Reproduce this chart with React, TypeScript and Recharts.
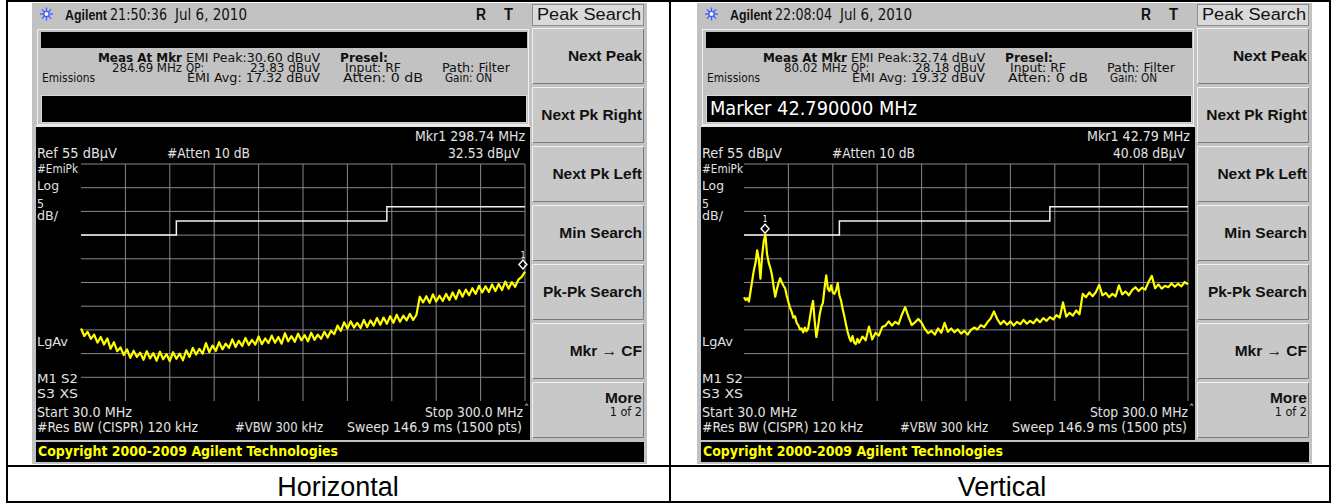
import React from 'react';
import { LineChart, Line, XAxis, YAxis, CartesianGrid, ReferenceDot } from 'recharts';

// grid: 10 divisions of 27 MHz, 10 divisions of 5 dB (ref 55 dBuV)
const FREQ_TICKS = [30, 57, 84, 111, 138, 165, 192, 219, 246, 273, 300];
const LEVEL_TICKS = [5, 10, 15, 20, 25, 30, 35, 40, 45, 50, 55];

// limit line (white), level holds from each frequency to the next
const LIMIT_FREQS = [30, 88, 216, 300];
const LIMIT_LEVELS = [40, 43, 46, 46];

// Horizontal: 30..300 MHz, one reading every 2 MHz (dBuV)
const HORIZ_LEVELS = [
  20.3, 18.7, 19.6, 18.1, 19.0, 17.3, 18.5, 16.9, 18.2, 16.0,
  17.4, 15.5, 16.3, 14.7, 15.9, 14.1, 15.6, 14.3, 15.2, 13.7,
  15.5, 14.0, 15.1, 13.5, 15.4, 13.8, 14.9, 13.4, 15.3, 13.9,
  15.0, 13.6, 15.7, 14.3, 16.2, 14.8, 16.0, 15.0, 17.2, 15.3,
  16.7, 15.6, 17.4, 15.9, 17.1, 16.2, 18.0, 16.4, 17.7, 16.6,
  18.3, 16.8, 17.9, 16.9, 18.6, 17.0, 18.2, 17.2, 18.8, 17.3,
  18.5, 17.1, 19.3, 17.6, 18.7, 17.5, 19.2, 17.8, 18.9, 17.6,
  19.4, 17.9, 19.0, 18.1, 19.6, 18.4, 19.8, 19.1, 20.9, 19.8,
  21.6, 20.3, 21.8, 20.5, 21.5, 20.4, 22.1, 20.6, 22.0, 20.9,
  22.5, 21.1, 22.6, 21.3, 22.9, 21.5, 23.2, 21.7, 23.0, 22.0,
  23.4, 22.1, 23.2, 27.0, 25.8, 27.1, 25.7, 27.5, 26.0, 27.2,
  26.1, 27.6, 26.3, 27.9, 26.5, 28.4, 27.0, 28.5, 27.3, 28.8,
  27.6, 29.3, 27.9, 29.2, 28.0, 29.6, 28.2, 29.7, 28.4, 30.2,
  28.7, 30.1, 29.1, 30.6, 31.2, 32.3,
];

// Vertical: 30..100 MHz every 1 MHz
const VERT_LOW_LEVELS = [
  26.9, 26.3, 26.7, 26.0, 28.2, 30.4, 32.6, 34.1, 36.8, 34.9,
  30.8, 35.6, 38.7, 40.1, 36.0, 34.2, 33.1, 31.6, 29.2, 27.0,
  28.6, 29.9, 30.9, 30.0, 29.3, 28.8, 27.2, 25.9, 24.7, 23.8,
  22.6, 22.9, 21.5, 21.0, 20.1, 20.3, 19.5, 20.5, 19.7, 20.3,
  22.4, 24.6, 26.1, 21.8, 18.5, 20.6, 23.2, 24.9, 25.7, 28.9,
  31.5, 28.7, 28.2, 29.4, 27.9, 27.6, 28.4, 29.9, 27.3, 26.2,
  24.4, 22.9, 21.2, 19.6, 18.4, 17.6, 18.7, 17.3, 17.0, 18.1,
  17.3,
];
// Vertical: 102..300 MHz every 2 MHz
const VERT_HIGH_LEVELS = [
  18.6, 17.8, 20.7, 18.0, 19.4, 18.8, 20.6, 20.9, 21.8, 20.9,
  21.7, 21.2, 23.2, 24.8, 22.8, 21.0, 21.6, 22.3, 21.5, 20.2,
  19.3, 19.8, 19.0, 20.3, 19.4, 21.5, 19.6, 20.3, 19.5, 20.1,
  19.2, 19.8, 19.0, 20.0, 20.5, 20.1, 21.0, 20.6, 21.6, 22.4,
  23.9, 22.3, 21.2, 21.9, 21.1, 21.8, 20.9, 21.7, 21.2, 22.1,
  21.3, 21.9, 21.4, 22.3, 21.6, 22.5, 21.9, 22.7, 22.2, 23.1,
  22.6, 25.8, 22.8, 23.6, 23.0, 24.1, 23.3, 27.6, 26.9, 27.9,
  27.1, 28.0, 29.5, 27.3, 27.8, 26.9, 27.6, 27.1, 29.4, 27.5,
  28.1, 27.3, 28.4, 29.0, 28.2, 28.9, 28.5, 30.1, 31.4, 28.8,
  29.6, 28.7, 29.3, 29.0, 29.8, 29.1, 29.7, 29.2, 30.1, 29.6,
];

const HORIZ_MARKER = { f: 298.74, v: 32.53 };
const VERT_MARKER = { f: 42.79, v: 40.08 };

const BUTTON_LABELS = ['Next Peak', 'Next Pk Right', 'Next Pk Left', 'Min Search', 'Pk-Pk Search', 'Mkr \u2192 CF'];

const limitData = LIMIT_FREQS.map((f, i) => ({ f, v: LIMIT_LEVELS[i] }));
const horizData = HORIZ_LEVELS.map((v, i) => ({ f: 30 + 2 * i, v }));
const vertData = [
  ...VERT_LOW_LEVELS.map((v, i) => ({ f: 30 + i, v })),
  ...VERT_HIGH_LEVELS.map((v, i) => ({ f: 102 + 2 * i, v })),
];

const GRAY = '#c2c2c2';
const LIGHT = '#e2e2e2';
const MONO = '"DejaVu Sans Condensed", "DejaVu Sans", sans-serif';
const SANS = '"Liberation Sans", Arial, sans-serif';

const PLOT_W = 444;
const PLOT_H = 237;
const PLOT_TOP = 164;
const PAD = { top: 16, right: 8, bottom: 4, left: 6 };

function T({ x, y, w, size = 12, bold = false, fill = '#111', font = MONO, children }: any) {
  return (
    <text x={x} y={y} fontSize={size} fontWeight={bold ? 700 : 400} fill={fill} fontFamily={font}
      textLength={w} lengthAdjust="spacingAndGlyphs">{children}</text>
  );
}

function Sun({ cx, cy }: any) {
  const angles = [0, 45, 90, 135];
  return (
    <g stroke="#3d5cff" strokeWidth={1.3}>
      {angles.map((a) => {
        const dx = Math.cos((a * Math.PI) / 180) * 6.5;
        const dy = Math.sin((a * Math.PI) / 180) * 6.5;
        return <line key={a} x1={cx - dx} y1={cy - dy} x2={cx + dx} y2={cy + dy} />;
      })}
      <circle cx={cx} cy={cy} r={2.6} fill="#ffffff" />
    </g>
  );
}

function MarkerShape({ cx, cy }: any) {
  const y = cy - 6;
  return (
    <g>
      <polygon points={`${cx},${y - 4.5} ${cx + 4},${y} ${cx},${y + 4.5} ${cx - 4},${y}`} fill="none" stroke="#ffffff" strokeWidth={1.4} />
      <text x={cx} y={cy - 13} fontSize={8} fill="#ffffff" textAnchor="middle" fontFamily={MONO}>1</text>
    </g>
  );
}

function Spectrum({ left, data, marker }: any) {
  return (
    <div style={{ position: 'absolute', left: left - PAD.left, top: PLOT_TOP - PAD.top }}>
      <LineChart width={PLOT_W + PAD.left + PAD.right} height={PLOT_H + PAD.top + PAD.bottom} margin={PAD}>
        <CartesianGrid stroke="#888888" verticalValues={FREQ_TICKS} horizontalValues={LEVEL_TICKS} />
        <XAxis type="number" dataKey="f" domain={[30, 300]} ticks={FREQ_TICKS} hide />
        <YAxis type="number" domain={[5, 55]} ticks={LEVEL_TICKS} hide />
        <Line data={limitData} dataKey="v" type="stepAfter" stroke="#f2f2f2" strokeWidth={1.5} dot={false} isAnimationActive={false} />
        <Line data={data} dataKey="v" type="linear" stroke="#ffff00" strokeWidth={2.2} strokeLinejoin="round" dot={false} isAnimationActive={false} />
        <ReferenceDot x={marker.f} y={marker.v} shape={(p: any) => <MarkerShape cx={p.cx} cy={p.cy} />} />
      </LineChart>
    </div>
  );
}

function Screen({ dx, time, measFreq, measW, emiPeak, qp, emiAvg, message, mkrText, mkrW, mkrLevel }: any) {
  return (
    <g transform={`translate(${dx},0)`}>
      <rect x={32} y={3} width={615} height={461} fill={GRAY} />
      <Sun cx={46.5} cy={14} />
      <T x={65} y={20} w={42} size={15} bold font={SANS}>Agilent</T>
      <T x={110} y={20} w={57} size={15}>{time}</T>
      <T x={175} y={20} w={72} size={15}>Jul 6, 2010</T>
      <T x={476} y={20} w={10} size={16} bold font={SANS}>R</T>
      <T x={504} y={20} w={9} size={16} bold font={SANS}>T</T>
      <rect x={532.5} y={4.5} width={111} height={21} fill="#dadada" stroke="#8c8c8c" />
      <T x={537} y={20} w={104} size={16} font={SANS}>Peak Search</T>

      {/* status block */}
      <rect x={37.5} y={29.5} width={491} height={95} fill="none" stroke="#f0f0f0" />
      <rect x={41} y={32} width={486} height={16} fill="#000" />
      <T x={98} y={62} w={84} bold>Meas At Mkr</T>
      <T x={186} y={62} w={134}>{`EMI Peak:${emiPeak} dBuV`}</T>
      <T x={340} y={62} w={48} bold>Presel:</T>
      <T x={182 - measW} y={72} w={measW}>{measFreq}</T>
      <T x={186} y={72} w={18}>QP:</T>
      <T x={250} y={72} w={70}>{`${qp} dBuV`}</T>
      <T x={345} y={72} w={56}>Input: RF</T>
      <T x={442} y={72} w={68}>Path: Filter</T>
      <T x={42} y={82} w={53}>Emissions</T>
      <T x={187} y={82} w={133}>{`EMI Avg: ${emiAvg} dBuV`}</T>
      <T x={343} y={82} w={80}>{'Atten:  0 dB'}</T>
      <T x={445} y={82} w={47}>Gain: ON</T>
      <rect x={41.5} y={95.5} width={485} height={27} fill="#000" stroke="#d8d8d8" />
      {message && <T x={45} y={115} w={207} size={20} fill="#ffffff">{message}</T>}

      {/* trace panel */}
      <rect x={36} y={125} width={494} height={2} fill="#e6e6e6" />
      <rect x={36} y={127} width={494} height={313} fill="#000" />
      <T x={525 - mkrW} y={141} w={mkrW} size={13.5} fill={LIGHT}>{mkrText}</T>
      <T x={37} y={158} w={80} size={13.5} fill={LIGHT}>Ref 55 dBμV</T>
      <T x={167} y={158} w={83} size={13.5} fill={LIGHT}>#Atten 10 dB</T>
      <T x={448} y={158} w={72} size={13.5} fill={LIGHT}>{mkrLevel}</T>
      <T x={37} y={173} w={41} size={13} fill={LIGHT}>#EmiPk</T>
      <T x={37} y={190} w={22} size={13} fill={LIGHT}>Log</T>
      <T x={37} y={208} w={7} size={13} fill={LIGHT}>5</T>
      <T x={37} y={220} w={21} size={13} fill={LIGHT}>dB/</T>
      <T x={37} y={346} w={31} size={13} fill={LIGHT}>LgAv</T>
      <T x={37} y={383} w={41} size={13} fill={LIGHT}>{'M1  S2'}</T>
      <T x={37} y={398} w={41} size={13} fill={LIGHT}>{'S3  XS'}</T>
      <T x={37} y={417} w={95} size={13.5} fill={LIGHT}>Start 30.0 MHz</T>
      <T x={425} y={417} w={98} size={13.5} fill={LIGHT}>Stop 300.0 MHz</T>
      <T x={524} y={410} w={5} size={9} fill={LIGHT}>^</T>
      <T x={37} y={432} w={161} size={13.5} fill={LIGHT}>#Res BW (CISPR) 120 kHz</T>
      <T x={235} y={432} w={88} size={13.5} fill={LIGHT}>#VBW 300 kHz</T>
      <T x={347} y={432} w={175} size={13.5} fill={LIGHT}>Sweep 146.9 ms (1500 pts)</T>

      <rect x={36} y={442} width={608} height={20} fill="#000" />
      <T x={38} y={456} w={300} size={14} bold fill="#ffff00">Copyright 2000-2009 Agilent Technologies</T>

      {/* softkeys */}
      {[...BUTTON_LABELS, ''].map((label, i) => {
        const y = 28 + i * 59;
        return (
          <g key={i}>
            <rect x={532} y={y} width={112} height={56} fill="#c8c8c8" />
            <path d={`M532.5 ${y + 55.5} V${y + 0.5} H643.5`} stroke="#f2f2f2" fill="none" />
            <path d={`M533 ${y + 55.5} H643.5 V${y + 1}`} stroke="#7a7a7a" fill="none" />
            {label && (
              <text x={642} y={y + 33} textAnchor="end" fontSize={15.5} fontWeight={700} fontFamily={SANS} fill="#111">{label}</text>
            )}
          </g>
        );
      })}
      <text x={642} y={403} textAnchor="end" fontSize={15.5} fontWeight={700} fontFamily={SANS} fill="#111">More</text>
      <text x={642} y={416} textAnchor="end" fontSize={12.5} fontFamily={MONO} fill="#111">1 of 2</text>
    </g>
  );
}

export default function App() {
  return (
    <div style={{ position: 'absolute', left: 0, top: 0, width: 1333, height: 504, background: '#ffffff', overflow: 'hidden' }}>
      <svg width={1333} height={504} style={{ position: 'absolute', left: 0, top: 0 }}>
        <Screen dx={0} time="21:50:36" measFreq="284.69 MHz" measW={70} emiPeak="30.60" qp="23.83" emiAvg="17.32"
          mkrText={'Mkr1  298.74 MHz'} mkrW={110} mkrLevel="32.53 dBμV" />
        <Screen dx={665} time="22:08:04" measFreq="80.02 MHz" measW={63} emiPeak="32.74" qp="28.18" emiAvg="19.32"
          message="Marker 42.790000 MHz" mkrText={'Mkr1  42.79 MHz'} mkrW={103} mkrLevel="40.08 dBμV" />

        {/* table rules */}
        <rect x={6} y={0} width={1325} height={2} fill="#000" />
        <rect x={6} y={501} width={1325} height={2} fill="#000" />
        <rect x={6} y={0} width={2} height={503} fill="#000" />
        <rect x={669} y={0} width={2} height={503} fill="#000" />
        <rect x={1329} y={0} width={2} height={503} fill="#000" />
        <rect x={6} y={465} width={1325} height={2} fill="#000" />
        <text x={338} y={496} textAnchor="middle" fontSize={27} fontFamily={SANS} fill="#000">Horizontal</text>
        <text x={1002} y={496} textAnchor="middle" fontSize={27} fontFamily={SANS} fill="#000">Vertical</text>
      </svg>
      <Spectrum left={81} data={horizData} marker={HORIZ_MARKER} />
      <Spectrum left={744} data={vertData} marker={VERT_MARKER} />
    </div>
  );
}
